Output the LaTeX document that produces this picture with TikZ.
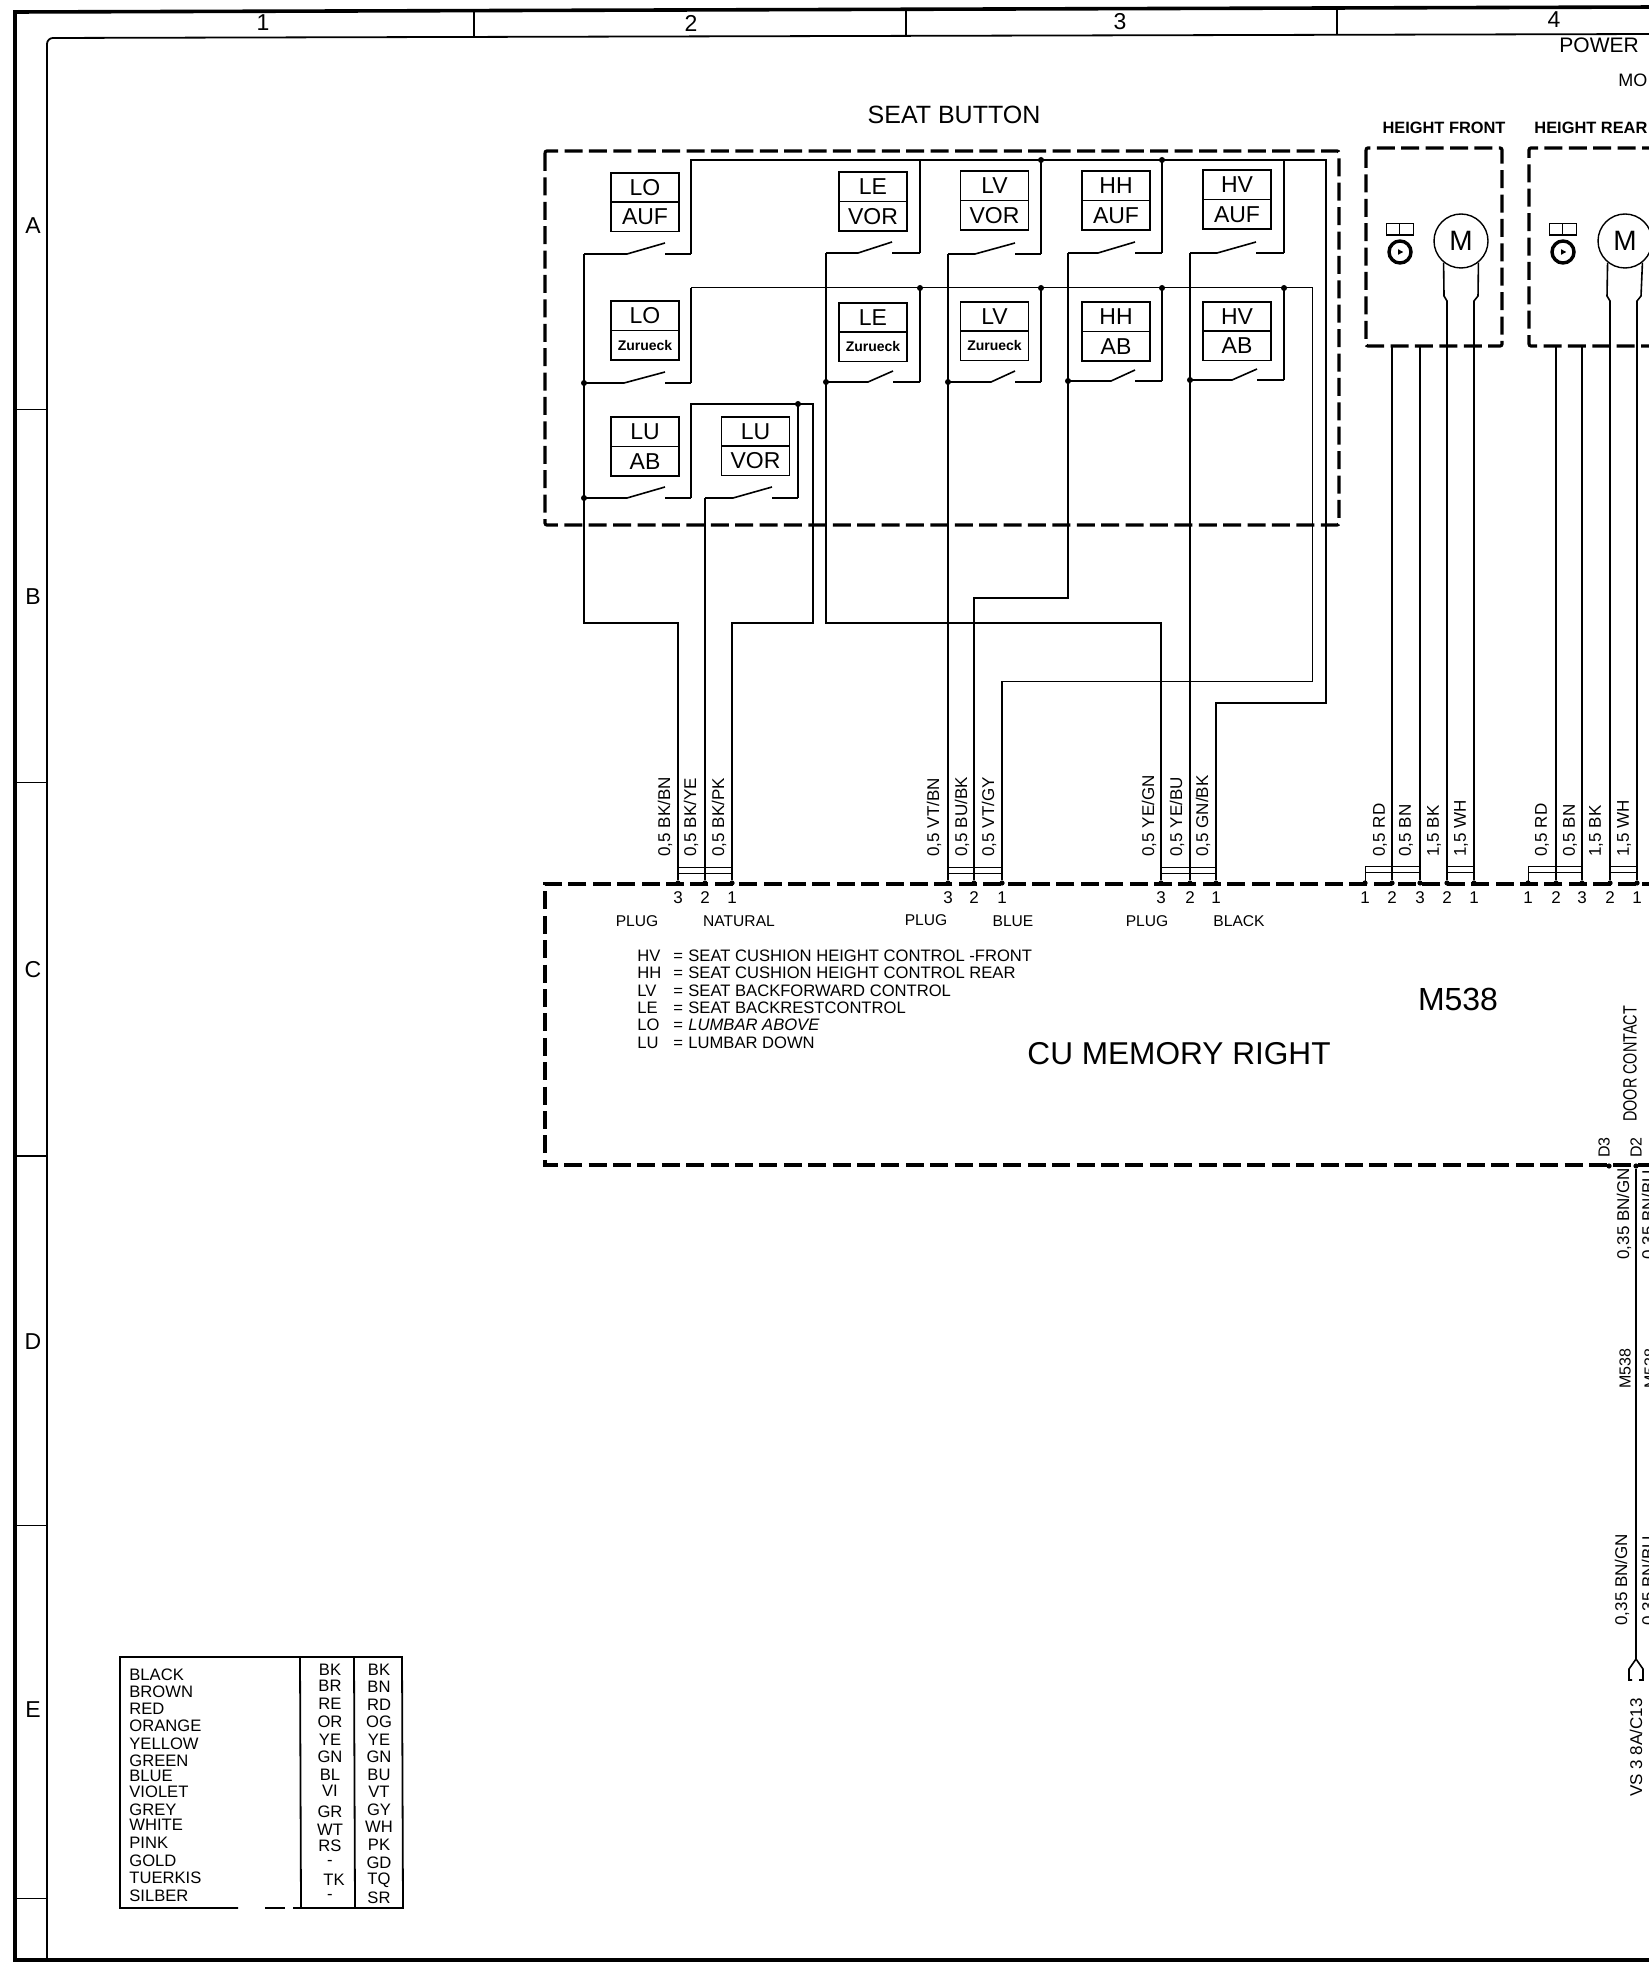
\documentclass[tikz,border=0pt]{standalone}
\usepackage{fontspec}
\usepackage{graphicx}
\setmainfont{Liberation Sans}
\usetikzlibrary{positioning}
\newcommand{\contact}[6]{%
\coordinate (#1-l) at (#2,#3);
\coordinate (#1-r) at (#6,#3);
\draw[wire] (#1-l) -- (#4,#3) -- (#5,#3-11);
\draw[wire] (#5,#3) -- (#1-r);}
\newcommand{\abbrev}[2]{\makebox[18pt][l]{#1}\makebox[7.5pt][l]{=}#2}
\begin{document}
\begin{tikzpicture}[x=.5pt, y=-.5pt,
frameout/.style={line width=1.8pt},
framein/.style={line width=.9pt},
wire/.style={line width=.8pt},
thinwire/.style={line width=.5pt},
dashbox/.style={line width=1.6pt, dash pattern=on 9pt off 3.2pt},
swbox/.style={draw, line width=.8pt, minimum width=34pt, minimum height=14.7pt, inner sep=0, outer sep=0, font=\fontsize{11.5}{12}\selectfont},
zurueck/.style={swbox, font=\fontsize{7}{8}\selectfont\bfseries},
motor/.style={draw, circle, line width=.7pt, minimum size=27pt, inner sep=0, font=\fontsize{14}{15}\selectfont},
sensebox/.style={draw, line width=.6pt, minimum width=6.8pt, minimum height=5.6pt, inner sep=0, outer sep=0},
hall/.style={draw, circle, line width=1.7pt, minimum size=11pt, inner sep=0},
pin/.style={circle, fill=black, minimum size=2.6pt, inner sep=0},
joint/.style={circle, fill=black, minimum size=3pt, inner sep=0},
pinno/.style={inner sep=0, font=\fontsize{8.5}{9}\selectfont},
wirelabel/.style={rotate=90, anchor=west, inner sep=0, font=\fontsize{8.5}{9}\selectfont},
felt/.style={inner sep=0, font=\fontsize{7.8}{9}\selectfont},
abbr/.style={anchor=west, inner sep=0, font=\fontsize{8.3}{9}\selectfont},
colour/.style={anchor=west, inner sep=0, font=\fontsize{8.3}{9}\selectfont},
code/.style={inner sep=0, font=\fontsize{8.3}{9}\selectfont},
gridmark/.style={inner sep=0, font=\fontsize{11.5}{13}\selectfont}]
\useasboundingbox (0,0) rectangle (1648,1968);
%%%%%%%%%% frame %%%%%%%%%%%
\draw[frameout] (1660,7) -- (15,12) -- (15,1960) -- (1660,1960);
\draw[framein, rounded corners=3pt] (1660,34) -- (47,38) -- (47,1960);
\draw[framein] (474,10) -- (474,37);
\draw[framein] (906,9) -- (906,36);
\draw[framein] (1337,8) -- (1337,34);
\draw[thinwire] (15,410) -- (47,410);
\draw[thinwire] (15,782) -- (47,782);
\draw[framein] (15,1156) -- (47,1156);
\draw[thinwire] (15,1525) -- (47,1525);
\draw[thinwire] (15,1898) -- (47,1898);
\node[gridmark] (col1) at (263,23) {1};
\node[gridmark] (col2) at (691,23) {2};
\node[gridmark] (col3) at (1120,22) {3};
\node[gridmark] (col4) at (1554,20) {4};
\node[gridmark] (rowA) at (33,226) {A};
\node[gridmark] (rowB) at (33,597) {B};
\node[gridmark] (rowC) at (33,970) {C};
\node[gridmark] (rowD) at (33,1342) {D};
\node[gridmark] (rowE) at (33,1710) {E};
%%%%%%%%%% seat button %%%%%%%%%%%
\node[font=\fontsize{12.5}{14}\selectfont, inner sep=0] (seat) at (954,115) {SEAT BUTTON};
\draw[dashbox, rounded corners=1pt] (545,151) rectangle (1339,525);
\node[swbox] (LOAt) at (645,187.5) {LO};
\node[swbox, below=0pt of LOAt] (LOAb) {AUF};
\node[swbox] (LEAt) at (873,187) {LE};
\node[swbox, below=0pt of LEAt] (LEAb) {VOR};
\node[swbox] (LVAt) at (994.5,186) {LV};
\node[swbox, below=0pt of LVAt] (LVAb) {VOR};
\node[swbox] (HHAt) at (1116,186) {HH};
\node[swbox, below=0pt of HHAt] (HHAb) {AUF};
\node[swbox] (HVAt) at (1237,185) {HV};
\node[swbox, below=0pt of HVAt] (HVAb) {AUF};
\node[swbox] (LOZt) at (645,316) {LO};
\node[zurueck, below=0pt of LOZt] (LOZb) {Zurueck};
\node[swbox] (LEZt) at (873,317.5) {LE};
\node[zurueck, below=0pt of LEZt] (LEZb) {Zurueck};
\node[swbox] (LVZt) at (994.5,316.5) {LV};
\node[zurueck, below=0pt of LVZt] (LVZb) {Zurueck};
\node[swbox] (HHBt) at (1116,317) {HH};
\node[swbox, below=0pt of HHBt] (HHBb) {AB};
\node[swbox] (HVBt) at (1237,316.5) {HV};
\node[swbox, below=0pt of HVBt] (HVBb) {AB};
\node[swbox] (LUAt) at (645,432) {LU};
\node[swbox, below=0pt of LUAt] (LUAb) {AB};
\node[swbox] (LUVt) at (755.5,431.5) {LU};
\node[swbox, below=0pt of LUVt] (LUVb) {VOR};
\contact{LOA}{584}{254}{627}{665}{691}
\contact{LEA}{826}{253}{858}{892}{920}
\contact{LVA}{948}{254}{975}{1015}{1041}
\contact{HHA}{1068}{253}{1098}{1135}{1162}
\contact{HVA}{1190}{253}{1217}{1256}{1284}
\contact{LOZ}{584}{383}{624}{665}{691}
\contact{LEZ}{826}{382}{868}{893}{920}
\contact{LVZ}{948}{382}{991}{1015}{1041}
\contact{HHB}{1068}{381}{1111}{1135}{1162}
\contact{HVB}{1190}{380}{1232}{1257}{1284}
\contact{LUA}{584}{498}{627}{665}{691}
\contact{LUV}{705}{498}{733}{772}{798}
%%%%%%%%%% control unit %%%%%%%%%%%
\draw[dashbox] (1660,884) -- (545,884) -- (545,1165) -- (1660,1165);
\node[pin] (A3) at (678,883) {};
\node[pin] (A2) at (705,883) {};
\node[pin] (A1) at (732,883) {};
\node[pin] (B3) at (948,883) {};
\node[pin] (B2) at (974,883) {};
\node[pin] (B1) at (1002,883) {};
\node[pin] (C3) at (1161,883) {};
\node[pin] (C2) at (1190,883) {};
\node[pin] (C1) at (1216,883) {};
\node[pinno, below=2.5pt of A3] (nA3) {3};
\node[pinno, below=2.5pt of A2] (nA2) {2};
\node[pinno, below=2.5pt of A1] (nA1) {1};
\node[pinno, below=2.5pt of B3] (nB3) {3};
\node[pinno, below=2.5pt of B2] (nB2) {2};
\node[pinno, below=2.5pt of B1] (nB1) {1};
\node[pinno, below=2.5pt of C3] (nC3) {3};
\node[pinno, below=2.5pt of C2] (nC2) {2};
\node[pinno, below=2.5pt of C1] (nC1) {1};
\node[felt] (plugA) at (637,921) {PLUG};
\node[felt] (natural) at (739,921) {NATURAL};
\node[felt] (plugB) at (926,920) {PLUG};
\node[felt] (blue) at (1013,921) {BLUE};
\node[felt] (plugC) at (1147,921) {PLUG};
\node[felt] (black) at (1239,921) {BLACK};
\node[abbr] (hv) at (637,956) {\abbrev{HV}{SEAT CUSHION HEIGHT CONTROL -FRONT}};
\node[abbr] (hh) at (637,973) {\abbrev{HH}{SEAT CUSHION HEIGHT CONTROL REAR}};
\node[abbr] (lv) at (637,991) {\abbrev{LV}{SEAT BACKFORWARD CONTROL}};
\node[abbr] (le) at (637,1008) {\abbrev{LE}{SEAT BACKRESTCONTROL}};
\node[abbr] (lo) at (637,1025) {\abbrev{LO}{\itshape LUMBAR ABOVE}};
\node[abbr] (lu) at (637,1043) {\abbrev{LU}{LUMBAR DOWN}};
\node[font=\fontsize{15.8}{18}\selectfont, inner sep=0] (cu) at (1179,1054) {CU MEMORY RIGHT};
\node[font=\fontsize{16}{18}\selectfont, inner sep=0] (m538) at (1458,999) {M538};
%%%%%%%%%% button wiring %%%%%%%%%%%
\coordinate (topend) at (1326,160);
\coordinate (midend) at (1312,288);
\coordinate (luend) at (813,404);
\coordinate (A3up) at (678,623);
\coordinate (A1up) at (732,623);
\coordinate (C3up) at (1161,623);
\coordinate (B2up) at (974,598);
\coordinate (B1up) at (1002,681);
\coordinate (C1up) at (1216,703);
\draw[wire] (LOA-l) |- (A3up) -- (A3);
\draw[wire] (LOA-r) |- (topend) |- (C1up) -- (C1);
\draw[wire] (LEA-r) -- (LEA-r |- topend);
\draw[wire] (LVA-r) -- (LVA-r |- topend);
\draw[wire] (HHA-r) -- (HHA-r |- topend);
\draw[wire] (HVA-r) -- (HVA-r |- topend);
\draw[thinwire] (LOZ-r) |- (midend) |- (B1up);
\draw[wire] (B1up) -- (B1);
\draw[wire] (LOZ-r) -- (LOZ-r |- midend);
\draw[wire] (LEZ-r) -- (LEZ-r |- midend);
\draw[wire] (LVZ-r) -- (LVZ-r |- midend);
\draw[wire] (HHB-r) -- (HHB-r |- midend);
\draw[wire] (HVB-r) -- (HVB-r |- midend);
\draw[wire] (LEA-l) |- (C3up) -- (C3);
\draw[wire] (LVA-l) -- (B3);
\draw[wire] (HHA-l) |- (B2up) -- (B2);
\draw[wire] (HVA-l) -- (C2);
\draw[wire] (LUA-r) |- (luend) |- (A1up) -- (A1);
\draw[wire] (LUV-r) -- (LUV-r |- luend);
\draw[wire] (LUV-l) -- (A2);
\node[joint] (jt1) at (LVA-r |- topend) {};
\node[joint] (jt2) at (HHA-r |- topend) {};
\node[joint] (jm1) at (LEZ-r |- midend) {};
\node[joint] (jm2) at (LVZ-r |- midend) {};
\node[joint] (jm3) at (HHB-r |- midend) {};
\node[joint] (jm4) at (HVB-r |- midend) {};
\node[joint] (jl1) at (LOZ-l) {};
\node[joint] (jl2) at (LUA-l) {};
\node[joint] (jl3) at (LEZ-l) {};
\node[joint] (jl4) at (LVZ-l) {};
\node[joint] (jl5) at (HHB-l) {};
\node[joint] (jl6) at (HVB-l) {};
\node[joint] (jl7) at (LUV-r |- luend) {};
\draw[thinwire] ([yshift=8pt]A3.center) -- ([yshift=8pt]A1.center);
\draw[thinwire] ([yshift=5pt]A3.center) -- ([yshift=5pt]A1.center);
\draw[thinwire] ([yshift=8pt]B3.center) -- ([yshift=8pt]B1.center);
\draw[thinwire] ([yshift=5pt]B3.center) -- ([yshift=5pt]B1.center);
\draw[thinwire] ([yshift=8pt]C3.center) -- ([yshift=8pt]C1.center);
\draw[thinwire] ([yshift=5pt]C3.center) -- ([yshift=5pt]C1.center);
\node[wirelabel] (wA3) at (665,857) {0,5 BK/BN};
\node[wirelabel] (wA2) at (691,857) {0,5 BK/YE};
\node[wirelabel] (wA1) at (719,857) {0,5 BK/PK};
\node[wirelabel] (wB3) at (934,857) {0,5 VT/BN};
\node[wirelabel] (wB2) at (962,857) {0,5 BU/BK};
\node[wirelabel] (wB1) at (989,857) {0,5 VT/GY};
\node[wirelabel] (wC3) at (1149,857) {0,5 YE/GN};
\node[wirelabel] (wC2) at (1177,857) {0,5 YE/BU};
\node[wirelabel] (wC1) at (1203,857) {0,5 GN/BK};
%%%%%%%%%% motors %%%%%%%%%%%
\node[inner sep=0, font=\fontsize{8.2}{9}\selectfont\bfseries] (hfront) at (1444,128) {HEIGHT FRONT};
\node[inner sep=0, anchor=west, font=\fontsize{8.2}{9}\selectfont\bfseries] (hrear) at (1534,128) {HEIGHT REAR};
\node[anchor=west, inner sep=0, font=\fontsize{10.5}{12}\selectfont] (power) at (1559,45) {POWER};
\node[anchor=west, inner sep=0, font=\fontsize{9}{12}\selectfont] (mo) at (1618,80) {MO};
\draw[dashbox, rounded corners=1pt] (1366,148) rectangle (1502,346);
\draw[dashbox, rounded corners=1pt] (1660,148) -- (1529,148) -- (1529,346) -- (1660,346);
\node[motor] (MF) at (1461,241) {M};
\node[motor] (MR) at (1625,241) {M};
\node[sensebox] (SFa) at (1393,229.5) {};
\node[sensebox, right=0pt of SFa] (SFb) {};
\node[hall] (SF) at (1400,252) {};
\fill ([xshift=-1pt,yshift=1.4pt]SF.center) -- ([xshift=1.6pt]SF.center) -- ([xshift=-1pt,yshift=-1.4pt]SF.center) -- cycle;
\node[sensebox] (SRa) at (1556,229.5) {};
\node[sensebox, right=0pt of SRa] (SRb) {};
\node[hall] (SR) at (1563,252) {};
\fill ([xshift=-1pt,yshift=1.4pt]SR.center) -- ([xshift=1.6pt]SR.center) -- ([xshift=-1pt,yshift=-1.4pt]SR.center) -- cycle;
\node[pin] (F1) at (1365,883) {};
\node[pin] (F2) at (1392,883) {};
\node[pin] (F3) at (1420,883) {};
\node[pin] (F4) at (1447,883) {};
\node[pin] (F5) at (1474,883) {};
\node[pin] (R1) at (1528,883) {};
\node[pin] (R2) at (1556,883) {};
\node[pin] (R3) at (1582,883) {};
\node[pin] (R4) at (1610,883) {};
\node[pin] (R5) at (1637,883) {};
\node[pinno, below=2.5pt of F1] (nF1) {1};
\node[pinno, below=2.5pt of F2] (nF2) {2};
\node[pinno, below=2.5pt of F3] (nF3) {3};
\node[pinno, below=2.5pt of F4] (nF4) {2};
\node[pinno, below=2.5pt of F5] (nF5) {1};
\node[pinno, below=2.5pt of R1] (nR1) {1};
\node[pinno, below=2.5pt of R2] (nR2) {2};
\node[pinno, below=2.5pt of R3] (nR3) {3};
\node[pinno, below=2.5pt of R4] (nR4) {2};
\node[pinno, below=2.5pt of R5] (nR5) {1};
\coordinate (bf) at (1366,346);
\coordinate (F4k) at (1447,301);
\coordinate (F4j) at (1444,296);
\coordinate (F5k) at (1474,301);
\coordinate (F5j) at (1478,296);
\coordinate (R4k) at (1610,301);
\coordinate (R4j) at (1607,296);
\coordinate (R5k) at (1637,301);
\coordinate (R5j) at (1641,296);
\draw[wire] (F2) -- (F2 |- bf);
\draw[wire] (F3) -- (F3 |- bf);
\draw[wire] (F4) -- (F4k) -- (F4j) -- (MF.231);
\draw[wire] (F5) -- (F5k) -- (F5j) -- (MF.309);
\draw[wire] (R2) -- (R2 |- bf);
\draw[wire] (R3) -- (R3 |- bf);
\draw[wire] (R4) -- (R4k) -- (R4j) -- (MR.231);
\draw[wire] (R5) -- (R5k) -- (R5j) -- (MR.309);
\draw[thinwire] (F1.center) -- ([yshift=8.5pt]F1.center) -- ([yshift=8.5pt]F3.center);
\draw[thinwire] ([yshift=5.5pt]F1.center) -- ([yshift=5.5pt]F3.center);
\draw[thinwire] ([yshift=8.5pt]F4.center) -- ([yshift=8.5pt]F5.center);
\draw[thinwire] ([yshift=5.5pt]F4.center) -- ([yshift=5.5pt]F5.center);
\draw[thinwire] (R1.center) -- ([yshift=8.5pt]R1.center) -- ([yshift=8.5pt]R3.center);
\draw[thinwire] ([yshift=5.5pt]R1.center) -- ([yshift=5.5pt]R3.center);
\draw[thinwire] ([yshift=8.5pt]R4.center) -- ([yshift=8.5pt]R5.center);
\draw[thinwire] ([yshift=5.5pt]R4.center) -- ([yshift=5.5pt]R5.center);
\node[wirelabel] (wF2) at (1380,857) {0,5 RD};
\node[wirelabel] (wF3) at (1406,857) {0,5 BN};
\node[wirelabel] (wF4) at (1434,857) {1,5 BK};
\node[wirelabel] (wF5) at (1461,857) {1,5 WH};
\node[wirelabel] (wR2) at (1542,857) {0,5 RD};
\node[wirelabel] (wR3) at (1570,857) {0,5 BN};
\node[wirelabel] (wR4) at (1596,857) {1,5 BK};
\node[wirelabel] (wR5) at (1624,857) {1,5 WH};
%%%%%%%%%% door contact %%%%%%%%%%%
\node[pin] (D3) at (1609,1166) {};
\node[pin] (D2) at (1636,1166) {};
\coordinate (plugtop) at (1636,1659);
\coordinate (plugL) at (1629,1669);
\coordinate (plugR) at (1643,1669);
\draw[wire] (D2) -- (plugtop);
\draw[wire] (1632,1680) -- (1629,1680) -- (plugL) -- (plugtop) -- (plugR) -- (1643,1680) -- (1639,1680);
\node[wirelabel, font=\fontsize{9.6}{10}\selectfont] (door) at (1630,1122) {\scalebox{.75}[1]{DOOR CONTACT}};
\node[wirelabel, font=\fontsize{8}{9}\selectfont] (d3txt) at (1604,1158) {D3};
\node[wirelabel, font=\fontsize{8}{9}\selectfont] (d2txt) at (1636,1158) {D2};
\node[wirelabel] (wD3a) at (1624,1260) {0,35 BN/GN};
\node[wirelabel] (wD2a) at (1649,1260) {0,35 BN/BU};
\node[wirelabel, font=\fontsize{8}{9}\selectfont] (mD3) at (1625,1389) {M538};
\node[wirelabel, font=\fontsize{8}{9}\selectfont] (mD2) at (1650,1389) {M538};
\node[wirelabel] (wD3b) at (1622,1626) {0,35 BN/GN};
\node[wirelabel] (wD2b) at (1649,1626) {0,35 BN/BU};
\node[wirelabel] (vs3) at (1636,1797) {VS 3 8A/C13};
%%%%%%%%%% colour table %%%%%%%%%%%
\draw[framein] (238,1908) -- (120,1908) -- (120,1657) -- (402,1657) -- (403,1908) -- (293,1908);
\draw[framein] (265,1908) -- (285,1908);
\draw[framein] (300,1657) -- (301,1908);
\draw[framein] (354,1657) -- (355,1908);
\node[colour] (cBK) at (129,1675) {BLACK};
\node[colour] (cBN) at (129,1692) {BROWN};
\node[colour] (cRD) at (129,1709) {RED};
\node[colour] (cOG) at (129,1726) {ORANGE};
\node[colour] (cYE) at (129,1744) {YELLOW};
\node[colour] (cGN) at (129,1761) {GREEN};
\node[colour] (cBU) at (129,1776) {BLUE};
\node[colour] (cVT) at (129,1792) {VIOLET};
\node[colour] (cGY) at (129,1810) {GREY};
\node[colour] (cWH) at (129,1825) {WHITE};
\node[colour] (cPK) at (129,1843) {PINK};
\node[colour] (cGD) at (129,1861) {GOLD};
\node[colour] (cTQ) at (129,1878) {TUERKIS};
\node[colour] (cSR) at (129,1896) {SILBER};
\node[code] (dBK) at (330,1670) {BK};
\node[code] (dBN) at (330,1686) {BR};
\node[code] (dRD) at (330,1704) {RE};
\node[code] (dOG) at (330,1722) {OR};
\node[code] (dYE) at (330,1740) {YE};
\node[code] (dGN) at (330,1757) {GN};
\node[code] (dBU) at (330,1775) {BL};
\node[code] (dVT) at (330,1791) {VI};
\node[code] (dGY) at (330,1812) {GR};
\node[code] (dWH) at (330,1830) {WT};
\node[code] (dPK) at (330,1846) {RS};
\node[code] (dGD) at (330,1863) {-};
\node[code] (dTQ) at (334,1880) {TK};
\node[code] (dSR) at (330,1897) {-};
\node[code] (eBK) at (379,1670) {BK};
\node[code] (eBN) at (379,1687) {BN};
\node[code] (eRD) at (379,1705) {RD};
\node[code] (eOG) at (379,1722) {OG};
\node[code] (eYE) at (379,1740) {YE};
\node[code] (eGN) at (379,1757) {GN};
\node[code] (eBU) at (379,1775) {BU};
\node[code] (eVT) at (379,1792) {VT};
\node[code] (eGY) at (379,1810) {GY};
\node[code] (eWH) at (379,1827) {WH};
\node[code] (ePK) at (379,1845) {PK};
\node[code] (eGD) at (379,1863) {GD};
\node[code] (eTQ) at (379,1880) {TQ};
\node[code] (eSR) at (379,1898) {SR};
\end{tikzpicture}
\end{document}
